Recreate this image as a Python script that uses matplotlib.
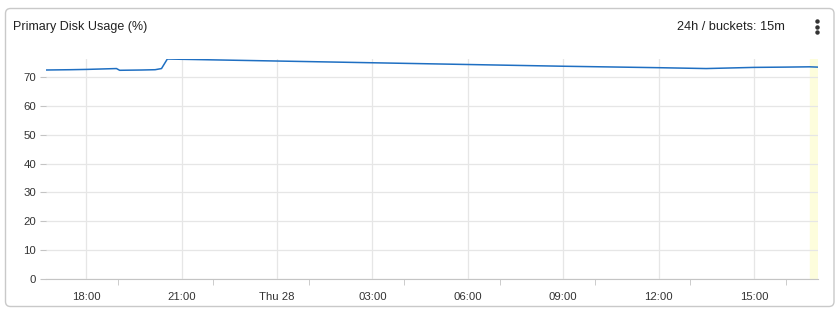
import matplotlib.pyplot as plt
import pandas as pd
from matplotlib.patches import FancyBboxPatch
from matplotlib.lines import Line2D
from matplotlib.transforms import IdentityTransform

# disk usage (key points)
times = ["2023-09-27 16:45", "2023-09-27 17:30", "2023-09-27 18:00", "2023-09-27 18:57",
         "2023-09-27 19:03", "2023-09-27 19:45", "2023-09-27 20:10", "2023-09-27 20:22",
         "2023-09-27 20:33", "2023-09-27 21:00", "2023-09-28 00:00", "2023-09-28 03:00",
         "2023-09-28 06:00", "2023-09-28 09:00", "2023-09-28 12:00", "2023-09-28 13:30",
         "2023-09-28 15:00", "2023-09-28 16:00", "2023-09-28 16:45", "2023-09-28 17:00"]
usage = [72.3, 72.4, 72.5, 72.8,
         72.2, 72.3, 72.4, 72.8,
         76.1, 76.0, 75.4, 74.8,
         74.2, 73.6, 73.1, 72.8,
         73.2, 73.3, 73.4, 73.3]

tick_times = ["2023-09-27 18:00", "2023-09-27 21:00", "2023-09-28 00:00", "2023-09-28 03:00",
              "2023-09-28 06:00", "2023-09-28 09:00", "2023-09-28 12:00", "2023-09-28 15:00"]
tick_labels = ["18:00", "21:00", "Thu 28", "03:00", "06:00", "09:00", "12:00", "15:00"]
minor_times = ["2023-09-27 19:00", "2023-09-27 22:00", "2023-09-28 01:00", "2023-09-28 04:00",
               "2023-09-28 07:00", "2023-09-28 10:00", "2023-09-28 13:00", "2023-09-28 16:00"]
y_ticks = [0, 10, 20, 30, 40, 50, 60, 70]

plt.rcParams['font.family'] = ['Liberation Sans', 'DejaVu Sans']

W, H = 839, 311
fig = plt.figure(figsize=(W / 100, H / 100), dpi=100)
fig.patch.set_facecolor('white')

# card border (behind the axes)
card = FancyBboxPatch((5.5, H - 306.5), 828.5, 298, boxstyle="round,pad=0,rounding_size=5",
                      transform=IdentityTransform(), facecolor='white', edgecolor='#c9c9c9',
                      lw=1, zorder=-10)
fig.add_artist(card)

ax = fig.add_axes([46 / W, (H - 279.3) / H, (818 - 46) / W, (279.3 - 59) / H])
ax.set_facecolor('none')

t = pd.to_datetime(times)
ax.plot(t, usage, color='#1f6fc2', lw=1.1, zorder=3)

# current (incomplete) bucket highlight
ax.axvspan(pd.Timestamp("2023-09-28 16:45"), pd.Timestamp("2023-09-28 17:01"),
           color='#fdfddc', zorder=0)

ax.set_xlim(pd.Timestamp("2023-09-27 16:44"), pd.Timestamp("2023-09-28 17:01"))
ax.set_ylim(0, 76.1)

ax.set_xticks(pd.to_datetime(tick_times))
ax.set_xticklabels(tick_labels)
ax.set_xticks(pd.to_datetime(minor_times), minor=True)
ax.set_yticks(y_ticks)

ax.grid(True, which='major', color='#e6e6e6', lw=0.9)
ax.set_axisbelow(True)
for s in ['top', 'right', 'left']:
    ax.spines[s].set_visible(False)
ax.spines['bottom'].set_color('#c4c4c4')

ax.tick_params(axis='x', which='major', length=0, pad=9, labelsize=8.2, labelcolor='#333333')
ax.tick_params(axis='x', which='minor', length=4, color='#c4c4c4')
ax.tick_params(axis='y', length=4, color='#c4c4c4', pad=3, labelsize=8.2, labelcolor='#333333')

fig.text(13 / W, 1 - 27 / H, "Primary Disk Usage (%)", fontsize=9, color='#222222', va='center')
fig.text(785 / W, 1 - 27 / H, "24h / buckets: 15m", fontsize=9.2, color='#222222',
         va='center', ha='right')
fig.add_artist(Line2D([817, 817, 817], [H - 21, H - 26.5, H - 32], transform=IdentityTransform(),
                      ls='', marker='o', ms=2.2, color='#333333'))

plt.savefig("out.png", dpi=100)
